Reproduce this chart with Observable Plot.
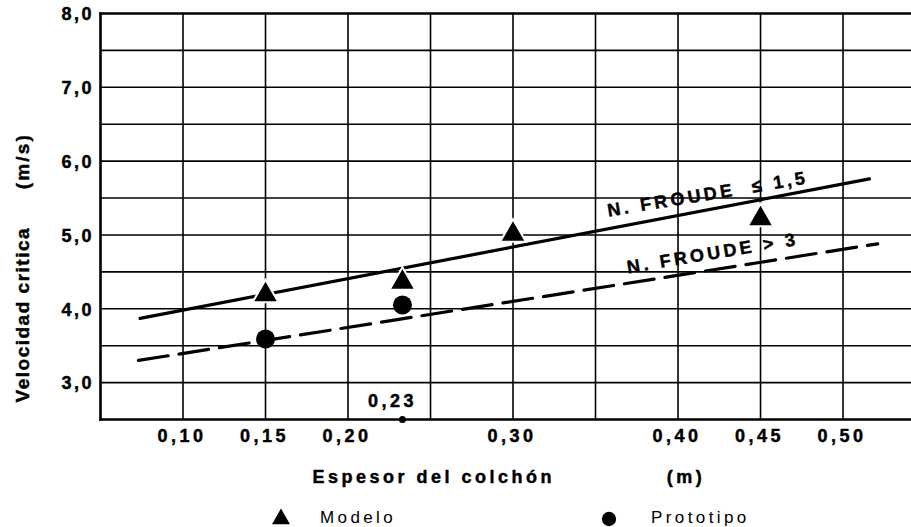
<!DOCTYPE html>
<html>
<head>
<meta charset="utf-8">
<script src="https://cdn.jsdelivr.net/npm/d3@7"></script>
<script src="https://cdn.jsdelivr.net/npm/@observablehq/plot@0.6"></script>
<style>
  html, body { margin: 0; padding: 0; background: #fff; }
  #chart { width: 911px; height: 527px; position: relative; overflow: hidden; font-family: "Liberation Sans", Arial, sans-serif; }
  #legend { position: relative; height: 24px; width: 911px; font-size: 17px; letter-spacing: 3.4px; color: #000; }
  #legend .item { position: absolute; top: 0; height: 24px; line-height: 24px; }
  #legend svg { position: absolute; top: 0; }
</style>
</head>
<body>
<div id="chart"></div>
<script>
// Grid positions and tick labels
const xGrid = [0.10, 0.15, 0.20, 0.25, 0.30, 0.35, 0.40, 0.45, 0.50];
const yGrid = [3.0, 3.5, 4.0, 4.5, 5.0, 5.5, 6.0, 6.5, 7.0, 7.5];
const xTickValues = [0.10, 0.15, 0.20, 0.30, 0.40, 0.45, 0.50];
const xTickLabels = ["0,10", "0,15", "0,20", "0,30", "0,40", "0,45", "0,50"];
const yTickValues = [3, 4, 5, 6, 7, 8];
const yTickLabels = ["3,0", "4,0", "5,0", "6,0", "7,0", "8,0"];

// Observations
const modeloX = [0.15, 0.233, 0.30, 0.45];
const modeloY = [4.19, 4.36, 5.01, 5.22];
const prototipoX = [0.15, 0.233];
const prototipoY = [3.59, 4.05];

// Fitted lines
const froude15X = [0.074, 0.516];
const froude15Y = [3.87, 5.76];
const froude3X = [0.073, 0.521];
const froude3Y = [3.30, 4.88];

// Labels
const markedX = [0.233];
const markedLabel = ["0,23"];
const lineLabelText = ["N. FROUDE \u00a0\u2264 1,5", "N. FROUDE > 3"];
const lineLabelX = [0.418, 0.421];
const lineLabelY = [5.55, 4.75];

const modelo = modeloX.map((x, i) => ({x, y: modeloY[i]}));
const prototipo = prototipoX.map((x, i) => ({x, y: prototipoY[i]}));
const f15 = froude15X.map((x, i) => ({x, y: froude15Y[i]}));
const f3 = froude3X.map((x, i) => ({x, y: froude3Y[i]}));
const xTicks = xTickValues.map((v, i) => ({v, label: xTickLabels[i]}));
const yTicks = yTickValues.map((v, i) => ({v, label: yTickLabels[i]}));
const lineLabels = lineLabelText.map((t, i) => ({t, x: lineLabelX[i], y: lineLabelY[i]}));
const marked = markedX.map((x, i) => ({x, label: markedLabel[i]}));

const font = "Liberation Sans, Arial, sans-serif";
const txt = {fontWeight: "bold", fill: "#000", stroke: "#000", strokeWidth: 0.45, lineAnchor: "middle"};

const plot = Plot.plot({
  width: 911,
  height: 506,
  marginLeft: 100,
  marginRight: 0,
  marginTop: 13,
  marginBottom: 87,
  style: {fontFamily: font, background: "#fff", color: "#000", overflow: "visible"},
  x: {domain: [0.05, 0.5415], axis: null},
  y: {domain: [2.5, 8.0], axis: null},
  marks: [
    Plot.ruleX(xGrid, {x: d => d, stroke: "#000", strokeWidth: 1.6}),
    Plot.ruleY(yGrid, {y: d => d, stroke: "#000", strokeWidth: 1.6}),
    Plot.frame({anchor: "top", stroke: "#000", strokeWidth: 2.6}),
    Plot.frame({anchor: "left", stroke: "#000", strokeWidth: 2.6}),
    Plot.frame({anchor: "bottom", stroke: "#000", strokeWidth: 2.6}),
    Plot.line(f15, {x: "x", y: "y", stroke: "#000", strokeWidth: 3.2, strokeLinecap: "round"}),
    Plot.line(f3, {x: "x", y: "y", stroke: "#000", strokeWidth: 3.2, strokeDasharray: "30,11", strokeLinecap: "round"}),
    Plot.dot(modelo, {x: "x", y: "y", symbol: "triangle", r: 8.3, fill: "#000", stroke: "#fff", strokeWidth: 4, paintOrder: "stroke"}),
    Plot.dot(prototipo, {x: "x", y: "y", symbol: "circle", r: 9.5, fill: "#000", stroke: "none"}),
    Plot.dot(marked, {x: "x", frameAnchor: "bottom", r: 3.5, fill: "#000", stroke: "none"}),
    Plot.text(marked, {x: "x", frameAnchor: "bottom", text: "label", dy: -18, dx: -10, fontSize: 18, ...txt}),
    Plot.text(lineLabels, {x: "x", y: "y", text: "t", rotate: -9.5, fontSize: 18, ...txt}),
    Plot.text(xTicks, {x: "v", frameAnchor: "bottom", text: "label", dy: 17, dx: -1, fontSize: 18, ...txt}),
    Plot.text(yTicks, {y: "v", frameAnchor: "left", text: "label", dx: -6.5, dy: 1, textAnchor: "end", fontSize: 18, ...txt}),
    Plot.text(["Espesor del colchón"], {x: () => 0.251, frameAnchor: "bottom", text: d => d, dy: 58, dx: 1.5, fontSize: 18, ...txt}),
    Plot.text(["(m)"], {x: () => 0.404, frameAnchor: "bottom", text: d => d, dy: 58, dx: 1.5, fontSize: 18, ...txt}),
    Plot.text(["Velocidad critica"], {y: () => 3.92, frameAnchor: "left", textAnchor: "middle", text: d => d, dx: -78, rotate: -90, fontSize: 19, ...txt}),
    Plot.text(["(m/s)"], {y: () => 6.0, frameAnchor: "left", textAnchor: "middle", text: d => d, dx: -78, rotate: -90, fontSize: 19, ...txt})
  ]
});

// letter spacing for the wide lettering of the original
const spacingFor = t => {
  if (t === "Velocidad critica") return "1.5px";
  if (t === "(m/s)") return "2.2px";
  if (t.startsWith("N. FROUDE")) return "3.4px";
  if (/^\d,\d$/.test(t)) return "2.5px";
  return "3.5px";
};
d3.select(plot).selectAll("text").each(function() {
  this.style.letterSpacing = spacingFor(this.textContent);
});

const chart = document.getElementById("chart");
chart.appendChild(plot);

// Legend below the plot
const legendItems = [
  {label: "Modelo", symbol: "triangle", sx: 270, tx: 320},
  {label: "Prototipo", symbol: "circle", sx: 598, tx: 651}
];
const legend = d3.select(chart).append("div").attr("id", "legend");
for (const it of legendItems) {
  const s = legend.append("svg").attr("width", 24).attr("height", 24).style("left", it.sx + "px");
  const sym = it.symbol === "triangle" ? d3.symbolTriangle : d3.symbolCircle;
  const size = it.symbol === "triangle" ? 140 : 160;
  s.append("path").attr("d", d3.symbol(sym, size)()).attr("transform", "translate(11,13)").attr("fill", "#000");
  legend.append("div").attr("class", "item").style("left", it.tx + "px").text(it.label);
}
</script>
</body>
</html>
